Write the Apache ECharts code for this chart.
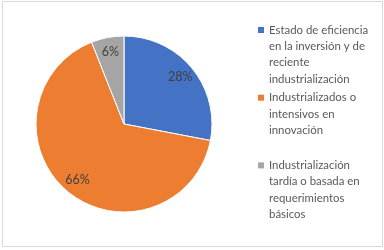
<!DOCTYPE html>
<html>
<head>
<meta charset="utf-8">
<script src="https://cdn.jsdelivr.net/npm/echarts@6/dist/echarts.min.js"></script>
<style>
	html, body { margin: 0; padding: 0; background: #fff; }
	#main { position: absolute; left: 0; top: 0; width: 384px; height: 250px; }
	#frame { position: absolute; left: 2px; top: 1px; width: 379px; height: 244px; border: 1px solid #d9d9d9; pointer-events: none; }
</style>
</head>
<body>
<div id="main"></div>
<div id="frame"></div>
<script>
// categorias y valores (%)
var names = [
	'Estado de eficiencia\nen la inversión y de\nreciente\nindustrialización',
	'Industrializados o\nintensivos en\ninnovación\n',
	'Industrialización\ntardía o basada en\nrequerimientos\nbásicos'
];
var values = [28, 66, 6];
var colors = ['#4472C4', '#ED7D31', '#A5A5A5'];

var pieData = [];
for (var i = 0; i < names.length; i++) {
	pieData.push({
		name: names[i],
		value: values[i],
		itemStyle: { color: colors[i] }
	});
}

var fs = 11.4, lh = 16.3;
var rich = {
	t: { fontFamily: 'Lato', fontSize: fs, color: '#595959', lineHeight: lh },
	g: { width: 5, lineHeight: lh },
	ind: { width: 11, lineHeight: lh }
};
for (var k = 0; k < colors.length; k++) {
	rich['m' + k] = { width: 6, height: 6, backgroundColor: colors[k], lineHeight: lh, verticalAlign: 'middle' };
}

var chart = echarts.init(document.getElementById('main'));
chart.setOption({
	backgroundColor: '#fff',
	animation: false,
	legend: {
		orient: 'vertical',
		left: 248,
		top: 19,
		icon: 'none',
		itemWidth: 0,
		itemGap: 6.8,
		selectedMode: false,
		data: names,
		textStyle: { rich: rich, padding: 0 },
		formatter: function(name) {
			var idx = names.indexOf(name);
			var lines = name.split('\n');
			var out = [];
			for (var j = 0; j < lines.length; j++) {
				if (j === 0) {
					out.push('{m' + idx + '| }{g| }{t|' + lines[j] + '}');
				} else {
					out.push('{ind| }{t|' + (lines[j] || ' ') + '}');
				}
			}
			return out.join('\n');
		}
	},
	series: [{
		type: 'pie',
		center: [124, 124],
		radius: [0, 88],
		startAngle: 90,
		clockwise: true,
		silent: true,
		label: { show: false },
		labelLine: { show: false },
		itemStyle: { borderColor: '#fff', borderWidth: 1 },
		data: pieData
	}, {
		// capa transparente solo para colocar las etiquetas
		type: 'pie',
		center: [124, 124],
		radius: [52, 88],
		startAngle: 90,
		clockwise: true,
		silent: true,
		itemStyle: { color: 'rgba(0,0,0,0)', borderWidth: 0 },
		label: {
			show: true,
			position: 'inside',
			formatter: '{c}%',
			fontFamily: 'Lato',
			fontSize: 12.5,
			color: '#404040'
		},
		labelLine: { show: false },
		data: values.map(function(v, i) { return { name: names[i], value: v }; })
	}]
});
</script>
</body>
</html>
